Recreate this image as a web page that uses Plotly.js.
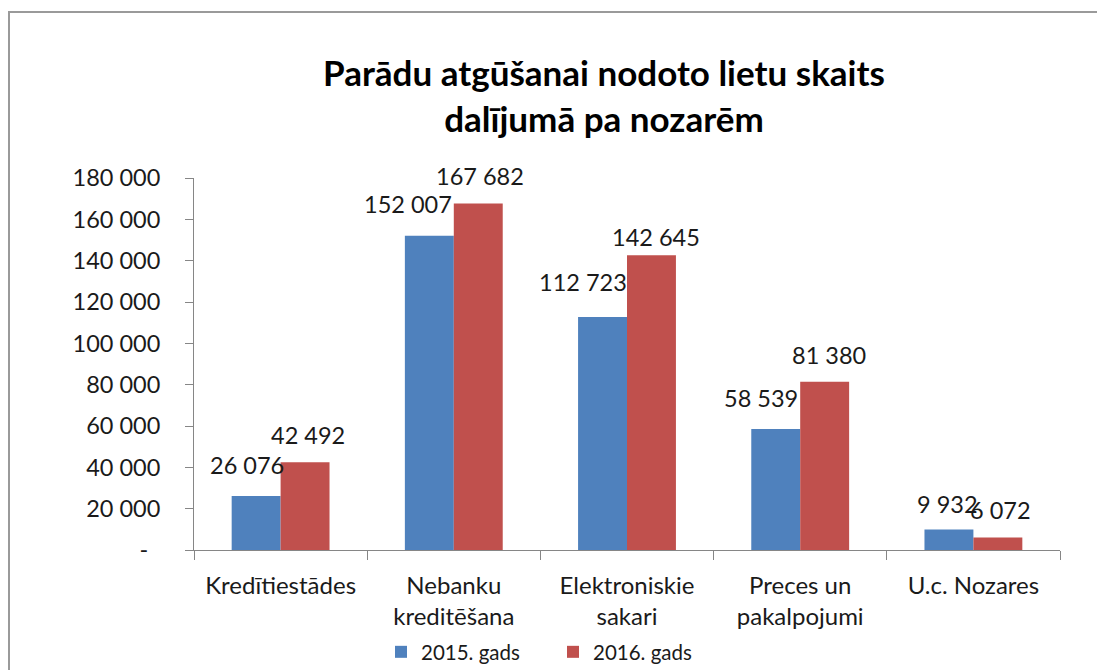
<!DOCTYPE html>
<html>
<head>
<meta charset="utf-8">
<script src="https://cdn.plot.ly/plotly-3.0.1.min.js"></script>
<style>
  html, body { margin: 0; padding: 0; overflow: hidden; background: #fff; width: 1097px; height: 670px; }
  #chart { position: absolute; left: 0; top: 0; width: 1097px; height: 670px; }
  .fl { position: absolute; background: #9a9a9a; pointer-events: none; }
  #ftop { left: 8px; top: 11px; width: 1089px; height: 2px; }
  #fleft { left: 8px; top: 11px; width: 2px; height: 659px; }
</style>
</head>
<body>
<div id="chart"></div>
<div id="ftop" class="fl"></div>
<div id="fleft" class="fl"></div>
<script>
// ---- data ----
const categories = ['Kredītiestādes', 'Nebanku<br>kreditēšana', 'Elektroniskie<br>sakari', 'Preces un<br>pakalpojumi', 'U.c. Nozares'];
const series2015 = [26076, 152007, 112723, 58539, 9932];
const series2016 = [42492, 167682, 142645, 81380, 6072];
const seriesNames = ['2015. gads', '2016. gads'];
const yTickVals = [0, 20000, 40000, 60000, 80000, 100000, 120000, 140000, 160000, 180000];
const yTickText = ['-\u00a0\u00a0', '20 000', '40 000', '60 000', '80 000', '100 000', '120 000', '140 000', '160 000', '180 000'];
const titleText = 'Parādu atgūšanai nodoto lietu skaits<br>dalījumā pa nozarēm';

// ---- label placement tweaks (pixels, style only) ----
const labelDx2015 = [-9, -21, -20, -15, -1];
const labelDy2015 = [31, 32, 35, 31, 25];
const labelDx2016 = [3, 2, 5, 4, 3];
const labelDy2016 = [27, 27, 18, 27, 27];

const W = 1097, H = 670;
const margin = { l: 194, r: 37, t: 178, b: 120, autoexpand: false };
const plotW = W - margin.l - margin.r;
const bargap = 0.435;
const catW = plotW / categories.length;
const barOff = catW * (1 - bargap) / 4;

const fmt = v => String(v).replace(/\B(?=(\d{3})+(?!\d))/g, ' ');
const FONT = 'Lato, "Open Sans", sans-serif';
const blue = '#4F81BD', red = '#C0504D';

const traces = [
  { type: 'bar', name: seriesNames[0], x: categories, y: series2015, marker: { color: blue }, hoverinfo: 'none' },
  { type: 'bar', name: seriesNames[1], x: categories, y: series2016, marker: { color: red }, hoverinfo: 'none' }
];

const annotations = [];
categories.forEach((c, i) => {
  annotations.push({ x: c, y: series2015[i], xref: 'x', yref: 'y', text: fmt(series2015[i]),
    showarrow: false, xanchor: 'center', yanchor: 'middle',
    xshift: -barOff + labelDx2015[i], yshift: labelDy2015[i],
    font: { family: FONT, size: 23.5, color: '#1a1a1a' } });
  annotations.push({ x: c, y: series2016[i], xref: 'x', yref: 'y', text: fmt(series2016[i]),
    showarrow: false, xanchor: 'center', yanchor: 'middle',
    xshift: barOff + labelDx2016[i], yshift: labelDy2016[i],
    font: { family: FONT, size: 23.5, color: '#1a1a1a' } });
});

const layout = {
  width: W, height: H,
  margin: margin,
  paper_bgcolor: '#fff', plot_bgcolor: '#fff',
  font: { family: FONT, color: '#1a1a1a' },
  title: { text: titleText, x: 604 / W, xref: 'container', xanchor: 'center',
           y: 1 - 86 / H, yref: 'container', yanchor: 'middle',
           font: { family: FONT, size: 35, color: '#000', weight: 'bold' } },
  barmode: 'group', bargap: bargap, bargroupgap: 0,
  showlegend: true,
  legend: { orientation: 'h', x: (553 - margin.l) / plotW, xanchor: 'center',
            y: (550 - 652) / 372, yanchor: 'middle', font: { family: FONT, size: 20.5 },
            traceorder: 'normal', entrywidth: 127 },
  xaxis: { type: 'category', showline: true, linecolor: '#868686', linewidth: 1,
           ticks: 'outside', tickson: 'boundaries', ticklen: 9, tickcolor: '#868686',
           tickfont: { family: FONT, size: 24 }, showgrid: false, zeroline: false,
           ticklabelstandoff: 14 },
  yaxis: { range: [0, 180000], tickvals: yTickVals, ticktext: yTickText,
           showline: true, linecolor: '#868686', linewidth: 1,
           ticks: 'outside', ticklen: 8, tickcolor: '#868686',
           tickfont: { family: FONT, size: 23.5 }, showgrid: false, zeroline: false,
           ticklabelstandoff: 20 },
  annotations: annotations
};

Plotly.newPlot('chart', traces, layout, { displayModeBar: false, staticPlot: true });
</script>
</body>
</html>
